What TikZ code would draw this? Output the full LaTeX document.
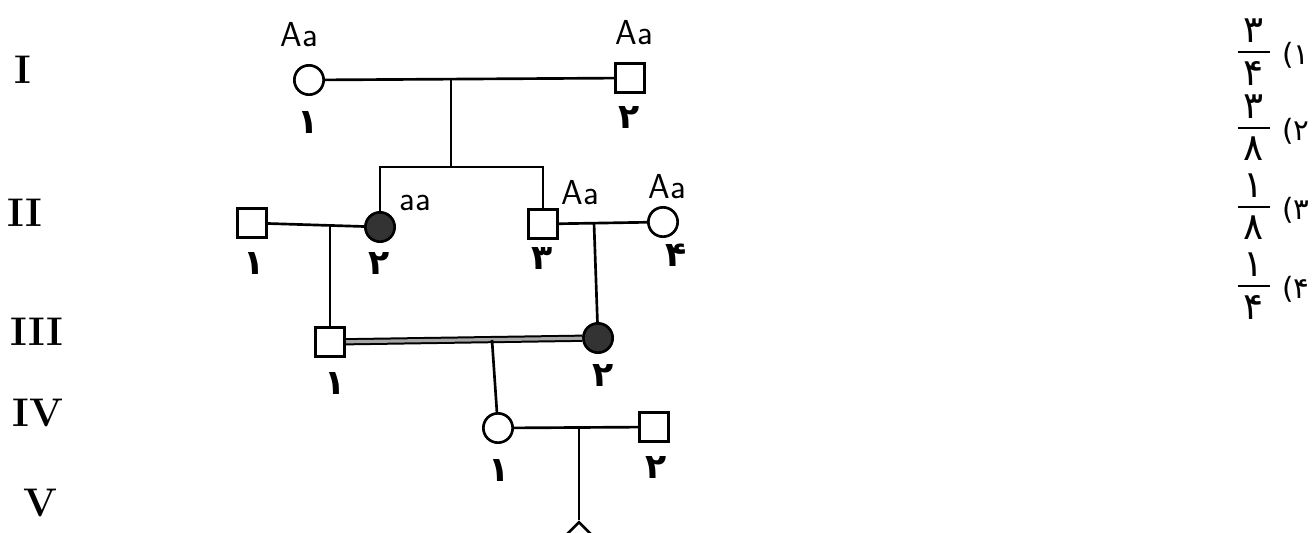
\documentclass[tikz,border=0pt]{standalone}
\usepackage{fontspec}
\usepackage{tikz}
\usetikzlibrary{shapes.geometric}

\newfontfamily\fanum{DejaVu Sans}

\tikzset{
    rel/.style={line width=2pt},
    male/.style={draw, rel, minimum size=22pt, inner sep=0pt},
    female/.style={circle, draw, rel, minimum size=22pt, inner sep=0pt},
    unknown/.style={diamond, aspect=1, draw, rel, minimum size=26pt, inner sep=0pt},
    affected/.style={fill=black!80},
    num/.style={font=\fanum\bfseries\fontsize{26}{26}\selectfont, inner sep=0pt},
    geno/.style={font=\sffamily\fontsize{26}{26}\selectfont},
    gen/.style={font=\bfseries\fontsize{30}{30}\selectfont},
    ans/.style={font=\fanum\fontsize{28}{28}\selectfont, inner sep=0pt},
    opt/.style={font=\fanum\fontsize{22}{22}\selectfont, inner sep=0pt}
}

\begin{document}
\begin{tikzpicture}[x=0.75pt, y=-0.75pt]
    \useasboundingbox (0,0) rectangle (1316,532);

    % Generation labels
    \node[gen] (gI) at (23,70) {I};
    \node[gen] (gII) at (25,213) {II};
    \node[gen] (gIII) at (37,332) {III};
    \node[gen] (gIV) at (38,413) {IV};
    \node[gen] (gV) at (40,503) {V};

    % Generation I
    \node[female] (I1) at (309,80) {};
    \node[male] (I2) at (630,78) {};
    \draw[rel] (I1) -- (I2);
    \coordinate (m1) at (451,80);
    \coordinate (s1) at (451,167);
    \draw[rel] (m1) -- (s1);

    % Generation II
    \node[male] (II1) at (252,223) {};
    \node[female, affected] (II2) at (380,227) {};
    \node[male] (II3) at (543,224) {};
    \node[female] (II4) at (663,222) {};
    \draw[rel] (II2) |- (s1) -| (II3);
    \draw[rel] (II1) -- (II2);
    \draw[rel] (II3) -- (II4);
    \coordinate (m2) at (330,224);
    \coordinate (m3) at (594,223);

    % Generation III (cousin marriage)
    \node[male] (III1) at (330,342) {};
    \node[female, affected] (III2) at (598,338) {};
    \draw[rel] (m2) -- (III1);
    \draw[rel] (m3) -- (III2);
    \draw[line width=1.5pt, double=black!35, double distance=2.4pt] (III1) -- (III2);
    \coordinate (m4) at (492,340);

    % Generation IV and V
    \node[female] (IV1) at (498,428) {};
    \node[male] (IV2) at (654,427) {};
    \draw[rel] (m4) -- (IV1);
    \draw[rel] (IV1) -- (IV2);
    \coordinate (m5) at (579,428);
    \node[unknown] (V1) at (579,539) {};
    \draw[rel] (m5) -- (V1);

    % Numbers under the symbols
    \node[num] (nI1) at (308,122) {۱};
    \node[num] (nI2) at (629,117) {۲};
    \node[num] (nII1) at (254,263) {۱};
    \node[num] (nII2) at (379,263) {۲};
    \node[num] (nII3) at (542,258) {۳};
    \node[num] (nII4) at (676,255) {۴};
    \node[num] (nIII1) at (335,383) {۱};
    \node[num] (nIII2) at (603,375) {۲};
    \node[num] (nIV1) at (499,470) {۱};
    \node[num] (nIV2) at (656,467) {۲};

    % Genotypes
    \node[geno] (gtI1) at (299,35) {Aa};
    \node[geno] (gtI2) at (634,33) {Aa};
    \node[geno] (gtII2) at (415,203) {aa};
    \node[geno] (gtII3) at (580,193) {Aa};
    \node[geno] (gtII4) at (667,187) {Aa};

    % Answer choices
    \foreach \n/\d/\y/\k in {۳/۴/52/۱, ۳/۸/128/۲, ۱/۸/207/۳, ۱/۴/286/۴}{
        \node[ans, minimum width=24pt] (bar\y) at (1254,\y) {};
        \draw[line width=2pt] (bar\y.west) -- (bar\y.east);
        \node[ans] (num\y) at (1254,\y-21) {\n};
        \node[ans] (den\y) at (1254,\y+21) {\d};
        \node[opt] (opt\y) at (1296,\y+3) {(\k};
    }
\end{tikzpicture}
\end{document}
